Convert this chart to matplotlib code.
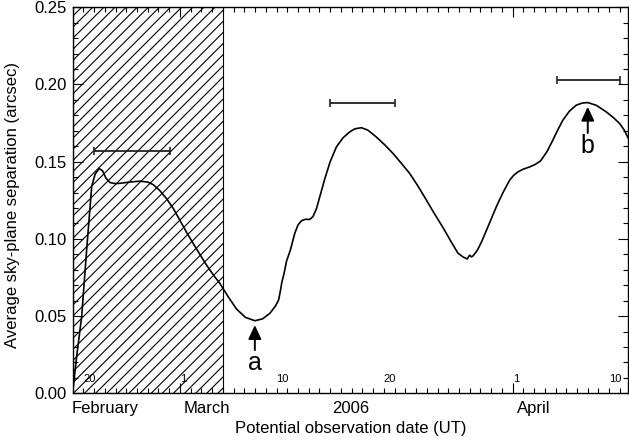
import matplotlib
matplotlib.use("Agg")
import matplotlib.pyplot as plt
import matplotlib.dates as mdates
from matplotlib.ticker import MultipleLocator, NullFormatter, FormatStrFormatter
from datetime import datetime, timedelta

plt.rcParams['font.family'] = ['Liberation Sans', 'DejaVu Sans']
plt.rcParams['hatch.linewidth'] = 0.8

# ---- data (days after 2006-02-19 00:00 UT) ----
start_date = datetime(2006, 2, 19)
curve_days = [0.0, 0.38, 0.85, 1.31, 1.78, 2.1, 2.49, 2.8, 3.1, 3.48, 4.0, 4.41, 5.3,
              6.27, 7.0, 7.5, 8.1, 8.76, 9.4, 10.0, 10.6, 11.24, 11.9, 12.48, 13.1,
              13.72, 14.5, 15.28, 16.1, 16.98, 17.7, 18.38, 18.9, 19.2, 19.35,
              19.5, 19.7, 19.93, 20.3, 20.7, 21.0, 21.33, 21.7, 22.1, 22.4, 22.72,
              23.1, 23.5, 24.0, 24.58, 25.2, 25.82, 26.3, 26.91, 27.5, 28.3, 29.1,
              29.86, 30.6, 31.41, 32.2, 32.96, 33.7, 34.5, 35.2, 35.9, 36.4, 36.78,
              36.9, 37.0, 37.15, 37.3, 37.7, 38.1, 38.8, 39.48, 40.1, 40.72, 41.1,
              41.49, 42.0, 42.58, 43.1, 43.6, 44.2, 44.75, 45.2, 45.68, 46.3, 46.93,
              47.5, 48.0, 48.8, 49.72, 50.4, 50.96, 51.4, 51.75]
curve_vals = [0.000, 0.024, 0.050, 0.093, 0.134, 0.142, 0.1456, 0.144, 0.1395, 0.1365,
              0.1358, 0.136, 0.1368, 0.1374, 0.1368, 0.1352, 0.1315, 0.126, 0.1195,
              0.112, 0.1045, 0.097, 0.0895, 0.083, 0.0768, 0.0712, 0.0625, 0.0545,
              0.0492, 0.047, 0.0482, 0.0518, 0.0565, 0.0605, 0.066, 0.072, 0.0775,
              0.0855, 0.093, 0.1036, 0.109, 0.1118, 0.1127, 0.1126, 0.1145, 0.1195,
              0.129, 0.139, 0.150, 0.1596, 0.1655, 0.1693, 0.1713, 0.172, 0.1705,
              0.166, 0.1608, 0.1553, 0.1492, 0.1424, 0.134, 0.1252, 0.1165, 0.1075,
              0.099, 0.0908, 0.0882, 0.0870, 0.0885, 0.0895, 0.0884, 0.0889, 0.0925,
              0.098, 0.1095, 0.1208, 0.130, 0.138, 0.1412, 0.1434, 0.1452, 0.1466,
              0.1482, 0.1505, 0.1565, 0.164, 0.1705, 0.1769, 0.1828, 0.1866, 0.188,
              0.1883, 0.1865, 0.1823, 0.1785, 0.1748, 0.1705, 0.1655]

window_centers = [5.5, 27.0, 48.05]
window_halfwidths = [3.53, 3.0, 2.95]
window_vals = [0.157, 0.1878, 0.2027]

excluded_span = [0.0, 14.0]
x_span = [0.0, 51.75]

arrow_labels = ['a', 'b']
arrow_days = [16.98, 48.0]
arrow_tips = [0.0442, 0.1856]
arrow_tails = [0.028, 0.1686]
arrow_text_y = [0.0151, 0.1554]

day_label_dates = [datetime(2006, 2, 20), datetime(2006, 3, 1), datetime(2006, 3, 10),
                   datetime(2006, 3, 20), datetime(2006, 4, 1), datetime(2006, 4, 10)]
day_label_texts = ['20', '1', '10', '20', '1', '10']
month_names = ['February', 'March', 'April']
month_offsets = [-0.05, 10.35, 41.45]


def d2n(d):
    return mdates.date2num(start_date + timedelta(days=d))


fig = plt.figure(figsize=(6.29, 4.4), dpi=100)
ax = fig.add_axes([72.6 / 629, (440 - 393.3) / 440, (628 - 72.6) / 629, 386.0 / 440])

ax.axvspan(d2n(excluded_span[0]), d2n(excluded_span[1]), fill=False, hatch='///',
           edgecolor='black', lw=0.8, zorder=1)

ax.plot([d2n(d) for d in curve_days], curve_vals, color='black', lw=1.2, zorder=3)

ax.errorbar([d2n(c) for c in window_centers], window_vals,
            xerr=window_halfwidths, fmt='none', ecolor='#222222', elinewidth=1.3,
            capsize=3, capthick=1.2, zorder=3)

for lab, d, tip, tail, ty in zip(arrow_labels, arrow_days, arrow_tips, arrow_tails, arrow_text_y):
    ax.annotate('', xy=(d2n(d), tip), xytext=(d2n(d), tail),
                arrowprops=dict(arrowstyle='-|>,head_length=0.6,head_width=0.28',
                                color='black', lw=1.4, mutation_scale=14,
                                shrinkA=0, shrinkB=0), zorder=4)
    ax.text(d2n(d), ty, lab, ha='center', va='baseline', fontsize=18)

ax.set_xlim(d2n(x_span[0]), d2n(x_span[1]))
ax.set_ylim(0, 0.25)

ax.xaxis.set_major_locator(mdates.MonthLocator())
ax.xaxis.set_minor_locator(mdates.DayLocator())
ax.xaxis.set_major_formatter(NullFormatter())
ax.yaxis.set_major_locator(MultipleLocator(0.05))
ax.yaxis.set_minor_locator(MultipleLocator(0.01))
ax.yaxis.set_major_formatter(FormatStrFormatter('%.2f'))

ax.tick_params(which='both', direction='in', top=True, right=True, width=0.8)
ax.tick_params(which='major', length=7.2)
ax.tick_params(which='minor', length=3.6)
ax.tick_params(axis='y', labelsize=12, pad=4)
for sp in ax.spines.values():
    sp.set_linewidth(1.0)

trans = ax.get_xaxis_transform()
for dt, t in zip(day_label_dates, day_label_texts):
    ax.text(mdates.date2num(dt), 0.025, t, transform=trans, ha='left', va='bottom',
            fontsize=8)

for name, off in zip(month_names, month_offsets):
    ax.text(d2n(off), -0.051, name, transform=trans, ha='left', va='baseline',
            fontsize=12, clip_on=False)
ax.text(0.5, -0.051, '2006', transform=ax.transAxes, ha='center', va='baseline',
        fontsize=12)
ax.text(0.5, -0.1036, 'Potential observation date (UT)', transform=ax.transAxes,
        ha='center', va='baseline', fontsize=12)

fig.text(20 / 629, 1 - 205 / 440, 'Average sky-plane separation (arcsec)', rotation=90,
         ha='right', va='center', fontsize=12)

fig.savefig('out.png', dpi=100)
